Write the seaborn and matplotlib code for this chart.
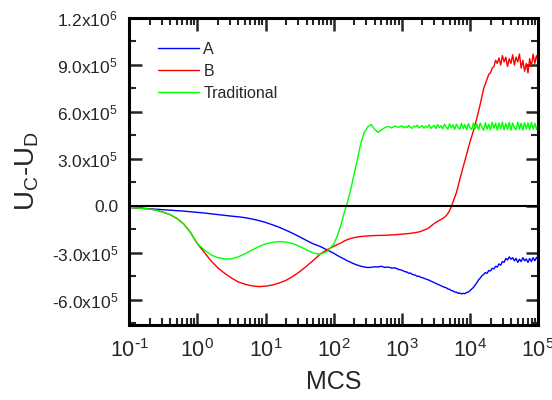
import numpy as np
import pandas as pd
import matplotlib
matplotlib.use("Agg")
import matplotlib.pyplot as plt
import seaborn as sns
from matplotlib.ticker import FixedLocator, FixedFormatter, LogLocator, NullFormatter

# log10(MCS) positions: coarse part, then a finer tail
log_mcs_coarse = [-1.0, -0.9, -0.8, -0.7, -0.6, -0.5, -0.4, -0.3, -0.2, -0.1,
                  0.0, 0.1, 0.2, 0.3, 0.4, 0.5, 0.6, 0.7, 0.8, 0.9,
                  1.0, 1.1, 1.2, 1.3, 1.4, 1.5, 1.6, 1.7, 1.8, 1.9,
                  2.0, 2.05, 2.1, 2.15, 2.2, 2.25, 2.3, 2.35, 2.4, 2.45,
                  2.5, 2.55, 2.6, 2.65, 2.7, 2.75, 2.8, 2.85, 2.9, 2.95]
log_mcs_tail = [3.0, 3.025, 3.05, 3.075, 3.1, 3.125, 3.15, 3.175, 3.2, 3.225,
                3.25, 3.275, 3.3, 3.325, 3.35, 3.375, 3.4, 3.425, 3.45, 3.475,
                3.5, 3.525, 3.55, 3.575, 3.6, 3.625, 3.65, 3.675, 3.7, 3.725,
                3.75, 3.775, 3.8, 3.825, 3.85, 3.875, 3.9, 3.925, 3.95, 3.975,
                4.0, 4.025, 4.05, 4.075, 4.1, 4.125, 4.15, 4.175, 4.2, 4.225,
                4.25, 4.275, 4.3, 4.325, 4.35, 4.375, 4.4, 4.425, 4.45, 4.475,
                4.5, 4.525, 4.55, 4.575, 4.6, 4.625, 4.65, 4.675, 4.7, 4.725,
                4.75, 4.775, 4.8, 4.825, 4.85, 4.875, 4.9, 4.925, 4.95, 4.975, 5.0]

# U_C - U_D in units of 1e5
a_coarse = [-0.1, -0.12, -0.15, -0.18, -0.21, -0.24, -0.27, -0.3, -0.33, -0.37,
            -0.41, -0.45, -0.5, -0.55, -0.6, -0.65, -0.69, -0.75, -0.83, -0.93,
            -1.05, -1.2, -1.36, -1.55, -1.75, -1.97, -2.2, -2.42, -2.58, -2.8,
            -3.02, -3.15, -3.27, -3.38, -3.5, -3.6, -3.7, -3.78, -3.85, -3.9,
            -3.93, -3.92, -3.88, -3.9, -3.85, -3.92, -3.9, -3.97, -3.95, -4.05]
a_tail = [-4.1, -4.16, -4.2, -4.22, -4.3, -4.28, -4.36, -4.4, -4.42, -4.5,
          -4.48, -4.55, -4.58, -4.62, -4.66, -4.7, -4.74, -4.8, -4.84, -4.9,
          -4.94, -5.0, -5.04, -5.1, -5.14, -5.2, -5.22, -5.3, -5.32, -5.4,
          -5.42, -5.5, -5.5, -5.58, -5.55, -5.62, -5.58, -5.6, -5.52, -5.5,
          -5.4, -5.3, -5.2, -5.05, -4.9, -4.72, -4.6, -4.45, -4.38, -4.25,
          -4.3, -4.12, -4.15, -3.98, -4.02, -3.85, -3.9, -3.7, -3.78, -3.55,
          -3.6, -3.35, -3.45, -3.25, -3.4, -3.3, -3.5, -3.35, -3.6, -3.4,
          -3.55, -3.3, -3.5, -3.38, -3.6, -3.35, -3.55, -3.3, -3.5, -3.28, -3.45]

b_coarse = [-0.1, -0.12, -0.16, -0.2, -0.27, -0.4, -0.55, -0.8, -1.15, -1.7,
            -2.4, -2.95, -3.5, -3.95, -4.3, -4.6, -4.85, -5.0, -5.1, -5.15,
            -5.12, -5.05, -4.92, -4.75, -4.5, -4.2, -3.85, -3.48, -3.08, -2.8,
            -2.58, -2.47, -2.38, -2.25, -2.15, -2.08, -2.02, -1.98, -1.95, -1.93,
            -1.92, -1.9, -1.89, -1.88, -1.88, -1.87, -1.86, -1.85, -1.84, -1.82]
b_tail = [-1.8, -1.79, -1.78, -1.77, -1.76, -1.75, -1.73, -1.72, -1.7, -1.68,
          -1.66, -1.63, -1.58, -1.54, -1.5, -1.45, -1.38, -1.3, -1.2, -1.12,
          -1.05, -0.98, -0.92, -0.86, -0.8, -0.72, -0.62, -0.48, -0.3, -0.05,
          0.25, 0.55, 0.85, 1.25, 1.7, 2.1, 2.5, 2.9, 3.3, 3.7,
          4.1, 4.45, 4.8, 5.2, 5.6, 6.05, 6.5, 7.0, 7.5, 7.8,
          8.1, 8.4, 8.5, 8.8, 8.9, 9.3, 9.1, 9.45, 9.0, 9.6,
          9.2, 9.5, 8.9, 9.4, 9.1, 9.65, 9.0, 9.5, 9.2, 9.7,
          8.8, 9.3, 8.6, 9.1, 8.5, 9.4, 8.9, 9.7, 9.1, 9.6, 9.2]

trad_coarse = [-0.1, -0.12, -0.16, -0.2, -0.27, -0.4, -0.55, -0.8, -1.15, -1.7,
               -2.4, -2.8, -3.12, -3.3, -3.38, -3.38, -3.25, -3.05, -2.82, -2.6,
               -2.42, -2.32, -2.28, -2.3, -2.4, -2.58, -2.8, -3.0, -3.08, -2.92,
               -2.45, -1.95, -1.3, -0.5, 0.2, 1.05, 2.05, 3.0, 4.05, 4.7,
               5.05, 5.2, 4.9, 4.7, 4.85, 5.0, 5.08, 4.98, 5.1, 5.02]
trad_tail = [5.12, 4.98, 5.08, 5.0, 5.14, 5.02, 4.96, 5.1, 5.04, 5.16,
             4.98, 5.08, 5.12, 4.96, 5.1, 5.02, 5.18, 4.95, 5.06, 5.15,
             4.94, 5.2, 5.0, 5.12, 4.92, 5.22, 5.04, 4.9, 5.25, 4.98,
             5.18, 4.88, 5.22, 5.02, 4.9, 5.28, 4.94, 5.2, 4.86, 5.26,
             5.0, 4.88, 5.3, 4.92, 5.24, 4.86, 5.3, 5.02, 4.84, 5.32,
             4.9, 5.22, 4.86, 5.34, 4.96, 5.28, 4.84, 5.3, 4.92, 5.36,
             4.86, 5.26, 4.9, 5.34, 4.84, 5.3, 5.0, 4.86, 5.35, 4.9,
             5.28, 4.84, 5.32, 4.92, 5.3, 4.86, 5.34, 4.9, 5.28, 4.88, 5.3]

labels = ["A", "B", "Traditional"]
colors = ["#0000ff", "#ff0000", "#00ff00"]

x_ticks = [1e-1, 1e0, 1e1, 1e2, 1e3, 1e4, 1e5]
x_tick_labels = [r"10$^{\text{-}1}$", r"10$^0$", r"10$^1$", r"10$^2$",
                 r"10$^3$", r"10$^4$", r"10$^5$"]
y_ticks = [-6e5, -3e5, 0.0, 3e5, 6e5, 9e5, 1.2e6]
y_tick_labels = [r"-6.0x10$^5$", r"-3.0x10$^5$", "0.0", r"3.0x10$^5$",
                 r"6.0x10$^5$", r"9.0x10$^5$", r"1.2x10$^6$"]

log_mcs = log_mcs_coarse + log_mcs_tail
frames = []
for name, vals in zip(labels, [a_coarse + a_tail, b_coarse + b_tail,
                               trad_coarse + trad_tail]):
    frames.append(pd.DataFrame({"MCS": 10 ** np.array(log_mcs),
                                "diff": np.array(vals) * 1e5,
                                "run": name}))
df = pd.concat(frames, ignore_index=True)

sns.set_style("ticks")
plt.rcParams["font.family"] = ["Liberation Sans", "DejaVu Sans"]
plt.rcParams["mathtext.default"] = "regular"

fig, ax = plt.subplots(figsize=(5.52, 4.0), dpi=100)
fig.subplots_adjust(left=0.234, right=0.975, top=0.955, bottom=0.1875)

sns.lineplot(data=df, x="MCS", y="diff", hue="run", hue_order=labels,
             palette=colors, estimator=None, sort=False, linewidth=1.0, ax=ax)
ax.axhline(0, color="black", linewidth=1.5, zorder=5)

ax.set_xscale("log")
ax.set_xlim(0.1, 1e5)
ax.set_ylim(-7.6e5, 1.2e6)

ax.xaxis.set_major_locator(FixedLocator(x_ticks))
ax.xaxis.set_major_formatter(FixedFormatter(x_tick_labels))
ax.xaxis.set_minor_locator(LogLocator(base=10, subs=np.arange(2, 10), numticks=20))
ax.xaxis.set_minor_formatter(NullFormatter())
ax.yaxis.set_major_locator(FixedLocator(y_ticks))
ax.yaxis.set_major_formatter(FixedFormatter(y_tick_labels))
ax.yaxis.set_minor_locator(FixedLocator([-7.5e5, -4.5e5, -1.5e5, 1.5e5, 4.5e5, 7.5e5, 1.05e6]))

for side in ax.spines.values():
    side.set_linewidth(2.2)
    side.set_color("black")
ax.tick_params(which="major", direction="in", length=9, width=1.8,
               top=True, right=True, labelsize=12.5, pad=8)
ax.tick_params(which="minor", direction="in", length=5, width=1.5,
               top=True, right=True)
ax.tick_params(axis="x", which="major", labelsize=15.5, pad=10)

ax.set_xlabel("MCS", fontsize=18, labelpad=6)
ax.set_ylabel(r"U$_C$-U$_D$", fontsize=20, labelpad=8)

ax.legend(loc="upper left", bbox_to_anchor=(0.035, 0.97), frameon=False,
          fontsize=11.5, handlelength=2.6, handletextpad=0.25, labelspacing=0.45)

fig.savefig("out.png", dpi=100)
